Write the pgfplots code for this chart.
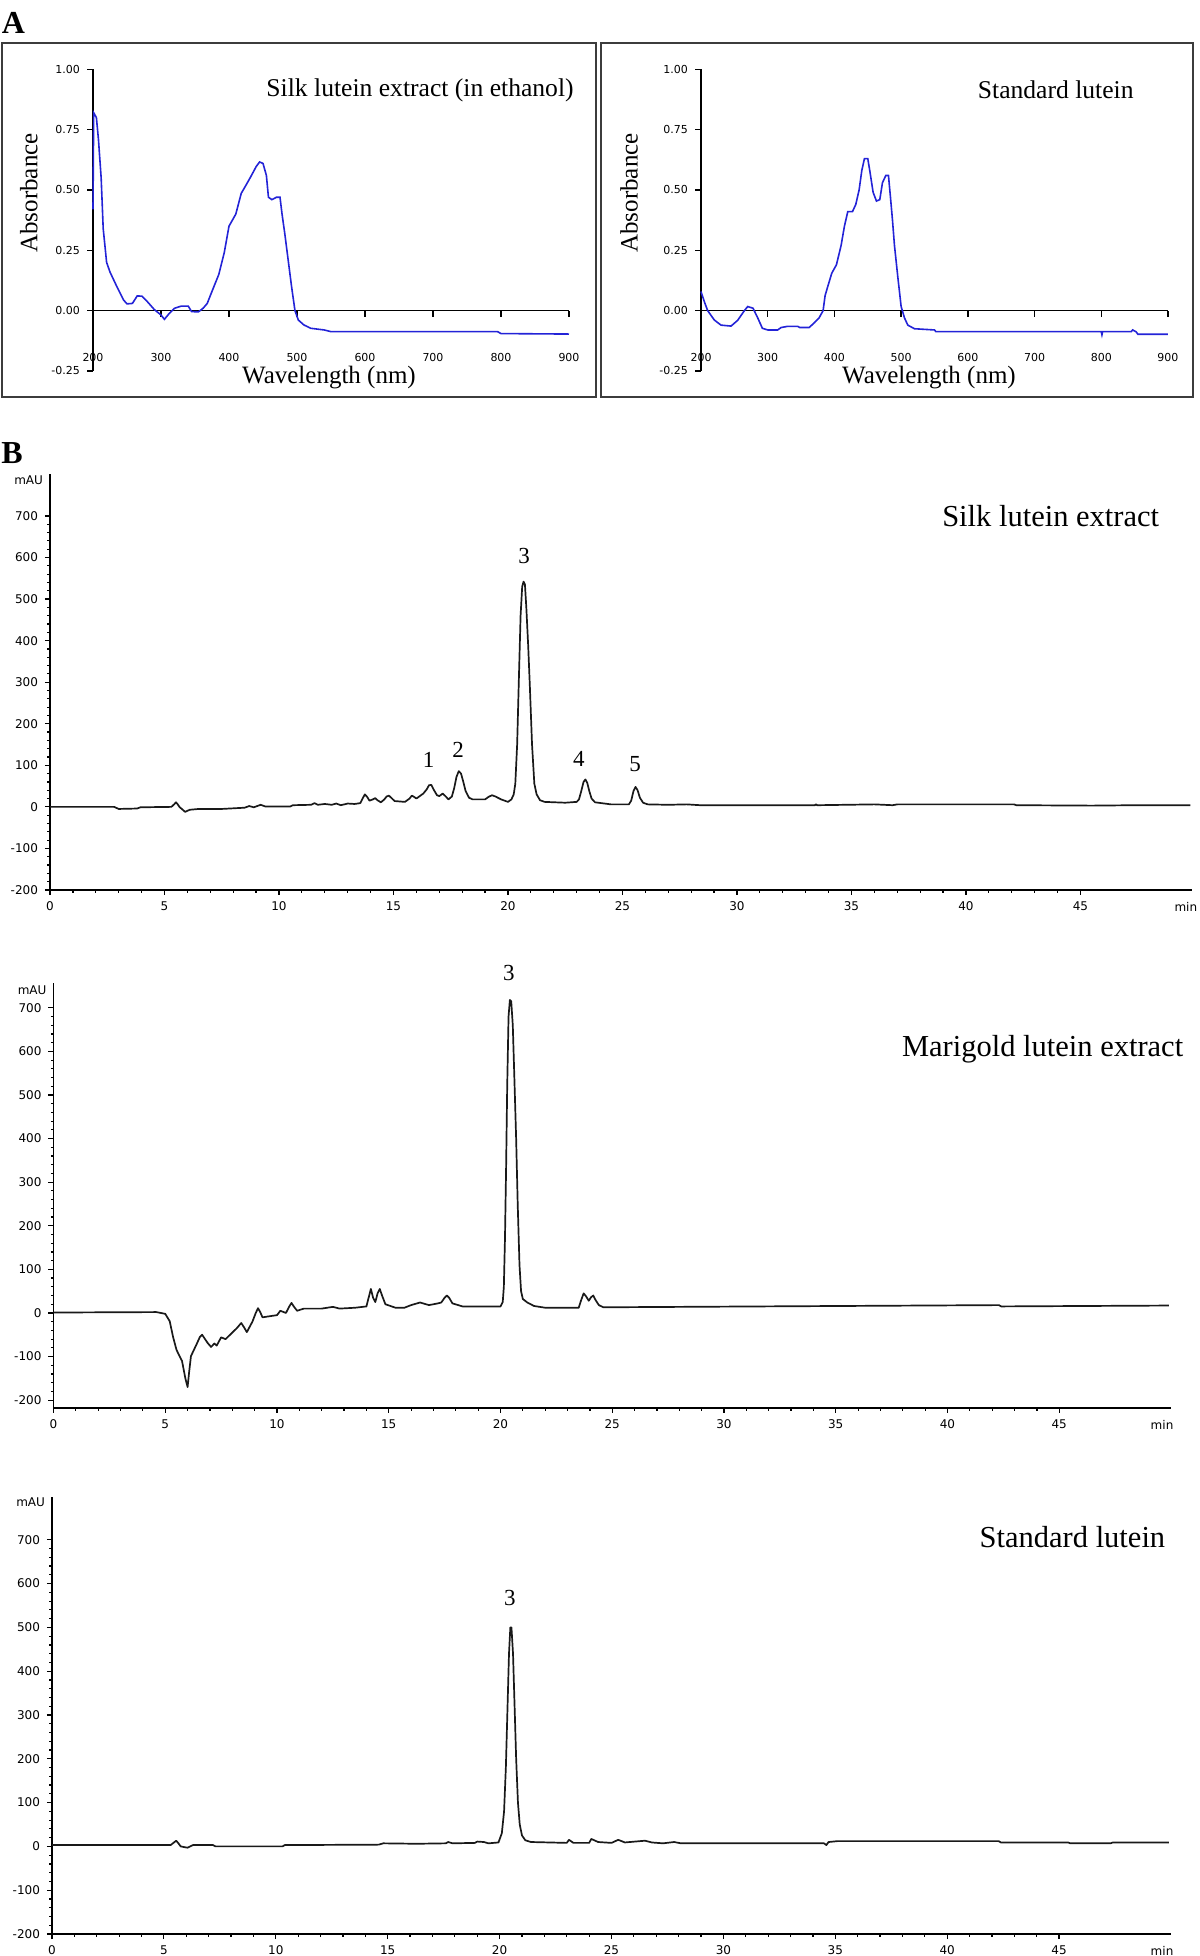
\documentclass[border=0pt]{standalone}
\usepackage{fontspec}
\setmainfont{Liberation Serif}
\newfontfamily\tickfont{DejaVu Sans}
\usepackage{pgfplots}
\pgfplotsset{compat=1.18}
\definecolor{specblue}{RGB}{35,35,215}
\definecolor{framegray}{RGB}{60,60,60}
\tikzset{peaklab/.style={font=\fontsize{11.5}{13}\selectfont}}
\pgfplotsset{
  specA/.style={scale only axis, height=150.85pt, xmin=200, xmax=900, ymin=-0.25, ymax=1,
    axis x line=middle, axis y line=left, axis line style={-,line width=0.8pt,black},
    hide obscured x ticks=false, hide obscured y ticks=false,
    xtick={200,300,400,500,600,700,800,900}, xticklabels={200,300,400,500,600,700,800,900},
    ytick={-0.25,0,0.25,0.5,0.75,1}, yticklabels={-0.25,0.00,0.25,0.50,0.75,1.00},
    tick style={black,line width=0.7pt}, major tick length=3pt, tick align=outside,
    ticklabel style={font=\tickfont\fontsize{5.5}{6}\selectfont},
    xticklabel style={anchor=center, yshift=-20.6pt},
    clip=false},
  chrom/.style={scale only axis, axis lines=left, axis line style={-,line width=0.9pt,black},
    xmin=0, xtick={0,5,10,15,20,25,30,35,40,45}, xticklabels={0,5,10,15,20,25,30,35,40,45},
    ytick={-200,-100,0,100,200,300,400,500,600,700},
    yticklabels={-200,-100,0,100,200,300,400,500,600,700},
    minor x tick num=4, minor y tick num=4, tick align=outside,
    major tick length=2.5pt, minor tick length=1.3pt, tick style={black,line width=0.6pt},
    ticklabel style={font=\tickfont\fontsize{6}{7}\selectfont},
    clip=false},
  chromline/.style={black!90, line width=0.85pt, no marks, line join=round},
}
\begin{document}
\begin{tikzpicture}
\useasboundingbox (0,0) rectangle (600pt,978pt);
% panel labels
\node[font=\bfseries\fontsize{16}{18}\selectfont] at (6.75pt,966.5pt) {A};
\node[font=\bfseries\fontsize{16}{18}\selectfont] at (6pt,751.5pt) {B};
% frames
\draw[framegray, line width=1.1pt] (1pt,779.5pt) rectangle (298pt,956.5pt);
\draw[framegray, line width=1.1pt] (300.5pt,779.5pt) rectangle (596.5pt,956.5pt);
% axis labels panel A
\node[rotate=90, font=\fontsize{12.5}{14}\selectfont] at (14.4pt,881.5pt) {Absorbance};
\node[rotate=90, font=\fontsize{12.5}{14}\selectfont] at (314.5pt,881.5pt) {Absorbance};
\node[font=\fontsize{12.5}{14}\selectfont] at (164.5pt,789pt) {Wavelength (nm)};
\node[font=\fontsize{12.5}{14}\selectfont] at (464.5pt,789pt) {Wavelength (nm)};
\node[anchor=east, inner sep=0pt, font=\fontsize{12.8}{15}\selectfont] at (287pt,933pt) {Silk lutein extract (in ethanol)};
\node[anchor=east, inner sep=0pt, font=\fontsize{12.8}{15}\selectfont] at (567pt,933pt) {Standard lutein};

% ---- Panel A left
\begin{axis}[specA, width=238pt, at={(46.5pt,792.5pt)}, anchor=south west]
\addplot[specblue, line width=0.8pt, no marks] coordinates {
(200,0.42) (201,0.82) (205,0.80) (208,0.71) (212,0.55) (215,0.34) (220,0.20) (225,0.16)
(235,0.10) (245,0.044) (250,0.028) (258,0.03) (265,0.061) (272,0.06) (280,0.037) (290,0.005)
(300,-0.018) (305,-0.036) (312,-0.012) (320,0.01) (330,0.019) (340,0.019) (345,-0.004)
(355,-0.005) (362,0.01) (368,0.03) (375,0.08) (385,0.15) (393,0.24) (400,0.35) (410,0.40)
(418,0.486) (425,0.52) (432,0.555) (440,0.597) (445,0.616) (450,0.61) (455,0.56) (458,0.47)
(463,0.46) (470,0.47) (475,0.47) (478,0.40) (482,0.32) (487,0.21) (492,0.10) (497,0.0)
(502,-0.039) (510,-0.059) (520,-0.073) (540,-0.08) (550,-0.087) (795,-0.087) (800,-0.095)
(900,-0.097)};
\end{axis}

% ---- Panel A right
\begin{axis}[specA, width=233.5pt, at={(350.5pt,792.5pt)}, anchor=south west]
\addplot[specblue, line width=0.8pt, no marks] coordinates {
(200,0.079) (205,0.037) (210,0.0) (220,-0.039) (230,-0.06) (245,-0.064) (255,-0.04)
(265,0.0) (270,0.017) (278,0.01) (285,-0.03) (292,-0.073) (300,-0.08) (315,-0.08)
(320,-0.07) (330,-0.065) (345,-0.065) (348,-0.07) (362,-0.07) (370,-0.05) (377,-0.03)
(383,0.0) (386,0.062) (390,0.10) (396,0.155) (403,0.19) (410,0.27) (415,0.35) (420,0.41)
(427,0.41) (432,0.44) (437,0.50) (441,0.58) (445,0.63) (450,0.63) (453,0.58) (458,0.49)
(463,0.454) (468,0.46) (472,0.53) (477,0.56) (481,0.56) (484,0.47) (487,0.376) (490,0.27)
(495,0.14) (500,0.017) (505,-0.03) (510,-0.06) (520,-0.075) (550,-0.08) (552,-0.087)
(800,-0.087) (801,-0.1) (802,-0.087) (845,-0.087) (847,-0.08) (852,-0.087) (855,-0.098)
(900,-0.098)};
\end{axis}

% ---- Chromatogram 1: silk
\begin{axis}[chrom, width=571pt, height=207.8pt, at={(25pt,533pt)}, anchor=south west,
  xmax=49.87, ymin=-200, ymax=800]
\addplot[chromline] coordinates {
(0,0) (2.8,0) (3.0,-5) (3.8,-4) (3.95,-1) (5.3,0) (5.42,6) (5.5,11) (5.58,6) (5.65,0)
(5.9,-12) (6.1,-7) (6.5,-5) (7.5,-5) (8.5,-2) (8.7,2) (8.9,-1) (9.1,3) (9.2,5) (9.3,3)
(9.4,1) (10.5,1) (10.6,4) (11.4,5) (11.55,9) (11.7,5) (12.0,7) (12.3,5) (12.5,8) (12.7,4)
(13.0,8) (13.3,7) (13.55,9) (13.65,20) (13.75,30) (13.85,24) (13.95,15) (14.1,18) (14.2,21)
(14.3,16) (14.45,11) (14.6,18) (14.7,25) (14.8,27) (14.9,22) (15.05,14) (15.5,12)
(15.7,20) (15.8,27) (15.9,24) (16.0,20) (16.15,26) (16.3,32) (16.45,42) (16.55,52)
(16.65,53) (16.75,42) (16.9,28) (17.0,26) (17.15,32) (17.3,24) (17.4,18) (17.55,25)
(17.65,45) (17.75,72) (17.85,86) (17.95,80) (18.05,60) (18.15,38) (18.3,22) (18.45,18)
(19.0,18) (19.15,24) (19.3,28) (19.45,25) (19.7,18) (20.0,12) (20.15,18) (20.25,30)
(20.32,56) (20.4,150) (20.47,297) (20.55,460) (20.62,530) (20.68,542) (20.74,535)
(20.8,480) (20.88,390) (20.95,297) (21.05,150) (21.15,56) (21.25,30) (21.4,16) (21.6,12)
(22.5,10) (23.0,12) (23.1,18) (23.2,38) (23.3,60) (23.38,66) (23.46,58) (23.55,38)
(23.65,20) (23.8,11) (24.5,6) (25.28,6) (25.38,15) (25.48,38) (25.57,48) (25.66,40)
(25.76,22) (25.9,10) (26.1,6) (27.0,5) (27.8,6) (28.4,4) (33.4,4) (33.45,6) (33.5,4)
(36.0,6) (36.8,4) (37.0,6) (42.1,6) (42.2,4) (45.5,3) (47.4,4) (49.8,4)};
\node[anchor=east, font=\tickfont\fontsize{6}{7}\selectfont] at (axis cs:0,785) {mAU};
\node[anchor=north, font=\tickfont\fontsize{6}{7}\selectfont] at (axis cs:49.6,-200) [yshift=-2.5pt] {min};
\node[peaklab] at (axis cs:16.53,113) {1};
\node[peaklab] at (axis cs:17.82,137) {2};
\node[peaklab] at (axis cs:20.7,604) {3};
\node[peaklab] at (axis cs:23.1,115) {4};
\node[peaklab] at (axis cs:25.55,103) {5};
\end{axis}
\node[anchor=east, inner sep=0pt, font=\fontsize{15.25}{17}\selectfont] at (579.75pt,720.15pt) {Silk lutein extract};

% ---- Chromatogram 2: marigold
\begin{axis}[chrom, width=558.75pt, height=212.3pt, at={(26.75pt,274pt)}, anchor=south west,
  xmax=50, ymin=-218, ymax=756]
\addplot[chromline] coordinates {
(0,1) (4.6,2) (5.0,-2) (5.2,-19) (5.35,-55) (5.5,-84) (5.6,-95) (5.75,-110) (5.9,-150)
(6.0,-170) (6.07,-135) (6.15,-99) (6.4,-72) (6.55,-55) (6.65,-50) (6.78,-60) (6.9,-69)
(7.05,-78) (7.2,-70) (7.3,-75) (7.5,-56) (7.7,-60) (8.0,-45) (8.2,-35) (8.4,-23)
(8.55,-35) (8.65,-44) (8.9,-20) (9.05,0) (9.15,11) (9.25,2) (9.35,-10) (10.0,-5)
(10.15,5) (10.4,0) (10.55,15) (10.65,23) (10.75,15) (10.9,5) (11.2,10) (12.0,10)
(12.5,14) (12.8,10) (13.5,12) (14.0,15) (14.1,35) (14.2,55) (14.3,35) (14.4,25) (14.5,45)
(14.6,55) (14.7,40) (14.85,20) (15.3,12) (15.7,12) (16.0,18) (16.4,24) (16.8,18)
(17.2,22) (17.35,24) (17.5,35) (17.6,40) (17.7,35) (17.85,22) (18.3,15) (20.0,15)
(20.1,25) (20.15,60) (20.2,170) (20.25,330) (20.3,520) (20.36,680) (20.42,718) (20.48,715)
(20.55,660) (20.62,540) (20.7,400) (20.77,250) (20.85,110) (20.92,50) (21.0,32) (21.2,24)
(21.5,16) (22.0,12) (23.5,12) (23.6,28) (23.72,45) (23.83,38) (23.95,28) (24.05,36)
(24.15,40) (24.25,30) (24.4,18) (24.6,13) (42.3,18) (42.4,15) (49.9,17)};
\node[anchor=east, font=\tickfont\fontsize{6}{7}\selectfont] at (axis cs:0,740) {mAU};
\node[anchor=north, font=\tickfont\fontsize{6}{7}\selectfont] at (axis cs:49.6,-218) [yshift=-2.5pt] {min};
\node[peaklab] at (axis cs:20.38,779) {3};
\end{axis}
\node[anchor=east, inner sep=0pt, font=\fontsize{15.25}{17}\selectfont] at (591.8pt,453.35pt) {Marigold lutein extract};

% ---- Chromatogram 3: standard
\begin{axis}[chrom, width=559.5pt, height=218.35pt, at={(26pt,11pt)}, anchor=south west,
  xmax=50, ymin=-200, ymax=797]
\addplot[chromline] coordinates {
(0,3) (5.3,3) (5.45,9) (5.55,13) (5.65,7) (5.75,0) (6.05,-3) (6.3,3) (7.2,3) (7.3,0)
(10.3,0) (10.4,3) (14.6,4) (14.8,7) (16.3,6) (17.6,7) (17.7,10) (17.9,7) (18.9,8)
(19.0,11) (19.3,10) (19.5,7) (19.95,9) (20.1,30) (20.2,80) (20.28,180) (20.35,310)
(20.42,440) (20.48,500) (20.53,500) (20.6,440) (20.67,320) (20.74,200) (20.82,100)
(20.9,50) (21.0,25) (21.15,14) (21.4,10) (23.0,8) (23.1,15) (23.3,8) (24.0,8) (24.1,17)
(24.4,10) (25.0,8) (25.3,15) (25.6,9) (26.5,13) (26.8,9) (27.3,7) (27.8,10) (28.1,7)
(34.5,7) (34.6,3) (34.7,10) (35.1,12) (42.3,12) (42.4,9) (45.4,9) (45.5,7) (47.3,7)
(47.4,9) (49.9,9)};
\node[anchor=east, font=\tickfont\fontsize{6}{7}\selectfont] at (axis cs:0,786) {mAU};
\node[anchor=north, font=\tickfont\fontsize{6}{7}\selectfont] at (axis cs:49.6,-200) [yshift=-2.5pt] {min};
\node[peaklab] at (axis cs:20.46,568) {3};
\end{axis}
\node[anchor=east, inner sep=0pt, font=\fontsize{15.25}{17}\selectfont] at (582.8pt,209.65pt) {Standard lutein};
\end{tikzpicture}
\end{document}
